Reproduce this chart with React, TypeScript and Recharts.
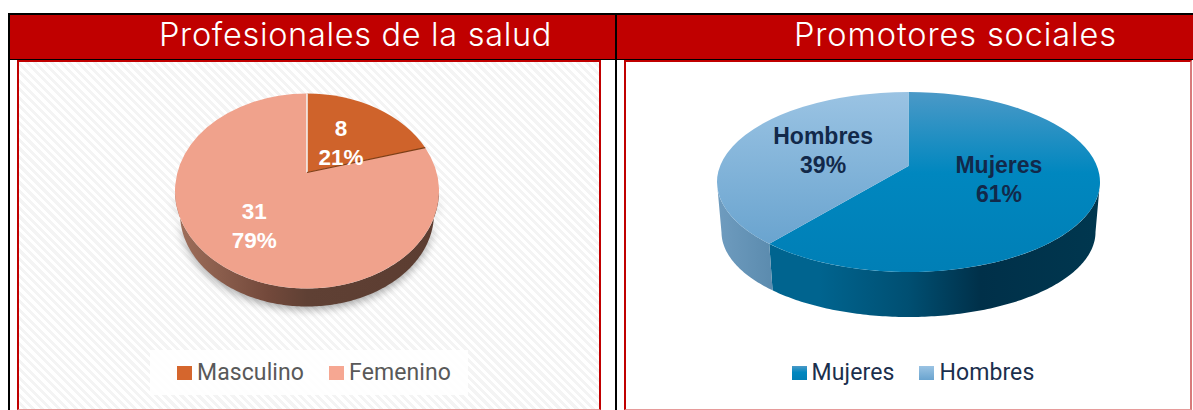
import React from 'react';
import { PieChart, Pie, Legend } from 'recharts';

const saludNames = ['Masculino', 'Femenino'];
const saludValues = [8, 31];
const saludColors = ['#cf632b', '#f0a28c'];
const saludLegendColors = ['#d5662d', '#f6a792'];

const promotoresNames = ['Mujeres', 'Hombres'];
const promotoresValues = [61, 39];
const promotoresColors = ['url(#mujeresTop)', 'url(#hombresTop)'];

const saludData = saludNames.map((name, i) => ({ name, value: saludValues[i], fill: saludColors[i] }));
const promotoresData = promotoresNames.map((name, i) => ({ name, value: promotoresValues[i], fill: promotoresColors[i] }));

const RED = '#c00000';
const titleFont = 'Inter, sans-serif';
const labelFont = '"Liberation Sans", Arial, sans-serif';
const legendFont = 'Roboto, sans-serif';

interface View {
  ry: number; // top face vertical radius
  c: number; // how far the pie centre slides up inside the ellipse (perspective)
  rxBottom: number;
  ryBottom: number;
  dyBottom: number;
  walls: string[];
  wallShadow?: boolean;
  edges?: boolean;
}

const rad = (d: number) => (d * Math.PI) / 180;

// perspective map of a point of the flat unit circle into the unit ellipse
const toEllipse = (angle: number, r: number, c: number) => {
  const x = r * Math.cos(rad(angle));
  const y = r * Math.sin(rad(angle));
  const d = 1 + c * y;
  return { X: (x * Math.sqrt(1 - c * c)) / d, Y: (y + c) / d };
};

const perspectiveSlice = (view: View) => (props: any) => {
  const { cx, cy, outerRadius, startAngle, endAngle, fill, index } = props;
  const rx = outerRadius;
  const { ry, c } = view;
  const pt = (a: number, r = 1) => {
    const p = toEllipse(a, r, c);
    return [cx + rx * p.X, cy - ry * p.Y];
  };
  const phi = (a: number) => {
    const p = toEllipse(a, 1, c);
    return (Math.atan2(p.Y, p.X) * 180) / Math.PI;
  };
  const apex = pt(0, 0);
  const s = pt(startAngle);
  const e = pt(endAngle);
  const phiStart = phi(startAngle);
  const sweep = (((phiStart - phi(endAngle)) % 360) + 360) % 360;
  const top = `M${apex[0]},${apex[1]} L${s[0]},${s[1]} A${rx},${ry} 0 ${sweep > 180 ? 1 : 0} 1 ${e[0]},${e[1]} Z`;

  // side wall: only the part of the rim that faces the viewer
  const upper: number[][] = [];
  const lower: number[][] = [];
  const steps: number[] = [];
  for (let t = 0; t < sweep; t += 1) steps.push(t);
  steps.push(sweep);
  steps.forEach((t) => {
    const f = phiStart - t;
    if (Math.sin(rad(f)) <= 0.0001) {
      upper.push([cx + rx * Math.cos(rad(f)), cy - ry * Math.sin(rad(f))]);
      lower.push([cx + view.rxBottom * Math.cos(rad(f)), cy + view.dyBottom - view.ryBottom * Math.sin(rad(f))]);
    }
  });
  const wall = upper.concat(lower.reverse());

  return (
    <g>
      {wall.length > 2 && (
        <path
          d={'M' + wall.map((p) => p.join(',')).join(' L') + ' Z'}
          fill={view.walls[index]}
          style={view.wallShadow ? { filter: 'drop-shadow(0 3px 4px rgba(0,0,0,0.35))' } : undefined}
        />
      )}
      <path d={top} fill={fill} />
      {view.edges && index === 1 && (
        <line x1={apex[0]} y1={apex[1]} x2={e[0]} y2={e[1]} stroke="#f4f4f4" strokeWidth={1.5} />
      )}
      {view.edges && index === 1 && (
        <line x1={apex[0]} y1={apex[1]} x2={s[0]} y2={s[1]} stroke="#7d3e16" strokeWidth={1.2} />
      )}
    </g>
  );
};

const sliceLabel = (view: View, radii: number[], color: string, firstLine: 'value' | 'name', fontSize: number, dx: number, dy: number) => (props: any) => {
  const { cx, cy, outerRadius, midAngle, percent, index, value, name } = props;
  const p = toEllipse(midAngle, radii[index], view.c);
  const x = cx + outerRadius * p.X + dx;
  const y = cy - view.ry * p.Y + dy;
  return (
    <text x={x} y={y} textAnchor="middle" fill={color} fontFamily={labelFont} fontWeight={700} fontSize={fontSize}>
      <tspan x={x} y={y - 7}>{firstLine === 'value' ? value : name}</tspan>
      <tspan x={x} y={y + 22}>{Math.round(percent * 100)}%</tspan>
    </text>
  );
};

const LegendRow = ({ payload, color, colors }: any) => (
  <div style={{ display: 'flex', justifyContent: 'center', alignItems: 'center', height: '100%' }}>
    {(payload || []).map((entry: any, i: number) => (
      <span key={entry.value} style={{ display: 'flex', alignItems: 'center', marginLeft: i ? 25 : 0 }}>
        <svg width={15} height={14} style={{ marginRight: 5 }}>
          <rect width={15} height={14} fill={colors ? colors[i] : entry.color} />
        </svg>
        <span style={{ fontFamily: legendFont, fontSize: 23, letterSpacing: 0.1, color, lineHeight: 1 }}>{entry.value}</span>
      </span>
    ))}
  </div>
);

const saludView: View = {
  ry: 97.5,
  c: 0.19,
  rxBottom: 127,
  ryBottom: 93,
  dyBottom: 22.5,
  walls: ['#7d3e16', 'url(#femeninoWall)'],
  wallShadow: true,
  edges: true,
};

const promotoresView: View = {
  ry: 90,
  c: 0.178,
  rxBottom: 187,
  ryBottom: 85,
  dyBottom: 50,
  walls: ['url(#mujeresWall)', 'url(#hombresWall)'],
};

const Box = ({ left, top, width, height, style, children }: any) => (
  <div style={{ position: 'absolute', left, top, width, height, boxSizing: 'border-box', ...style }}>{children}</div>
);

const Title = ({ left, spacing, children }: any) => (
  <div
    style={{
      position: 'absolute',
      left,
      top: 15,
      height: 44,
      lineHeight: '40px',
      fontFamily: titleFont,
      fontWeight: 300,
      fontSize: 32.5,
      letterSpacing: spacing,
      color: '#fff',
      whiteSpace: 'nowrap',
    }}
  >
    {children}
  </div>
);

const App = () => (
  <div style={{ position: 'absolute', left: 0, top: 0, width: 1193, height: 410, overflow: 'hidden', background: '#fff' }}>
    {/* table frame */}
    <Box left={8} top={13} width={1185} height={47} style={{ background: RED, borderTop: '2px solid #000', borderLeft: '2px solid #000', borderBottom: '1.5px solid #000' }} />
    <Box left={8} top={60} width={2} height={350} style={{ background: '#000' }} />
    <Box left={615} top={13} width={2} height={397} style={{ background: '#000' }} />
    <Title left={159} spacing={0.68}>Profesionales de la salud</Title>
    <Title left={794} spacing={0.9}>Promotores sociales</Title>

    {/* left panel */}
    <Box
      left={17}
      top={60}
      width={584}
      height={350}
      style={{
        border: `2px solid ${RED}`,
        borderBottomColor: '#e79a9a',
        borderBottomWidth: 1,
        background: 'repeating-linear-gradient(45deg, #ffffff 0 3px, #f4f4f4 3px 6px)',
      }}
    >
      <PieChart width={580} height={347} margin={{ top: 0, right: 0, bottom: 0, left: 0 }}>
        <defs>
          <linearGradient id="femeninoWall" x1="0" y1="0" x2="1" y2="0">
            <stop offset="0" stopColor="#a0705c" />
            <stop offset="0.35" stopColor="#73493b" />
            <stop offset="0.5" stopColor="#5f4034" />
            <stop offset="1" stopColor="#5c3d31" />
          </linearGradient>
        </defs>
        <Pie
          data={saludData}
          dataKey="value"
          nameKey="name"
          cx={288}
          cy={129}
          outerRadius={132}
          startAngle={90}
          endAngle={-270}
          stroke="none"
          isAnimationActive={false}
          shape={perspectiveSlice(saludView)}
          label={sliceLabel(saludView, [0.43, 0.64], '#ffffff', 'value', 22.5, 2.5, 0.5)}
          labelLine={false}
        />
        <Legend
          itemSorter={null}
          content={(p: any) => <LegendRow {...p} color="#595959" colors={saludLegendColors} />}
          wrapperStyle={{ position: 'absolute', left: 131, top: 288, width: 318, height: 45, paddingLeft: 10, boxSizing: 'border-box', background: 'rgba(255,255,255,0.85)' }}
        />
      </PieChart>
    </Box>

    {/* right panel */}
    <Box
      left={624}
      top={60}
      width={568}
      height={350}
      style={{ border: `2px solid ${RED}`, borderRightColor: '#d87a7a', borderBottomColor: '#e79a9a', borderBottomWidth: 1, background: '#fff' }}
    >
      <PieChart width={564} height={347} margin={{ top: 0, right: 0, bottom: 0, left: 0 }}>
        <defs>
          <linearGradient id="mujeresTop" x1="0" y1="0" x2="0" y2="1">
            <stop offset="0" stopColor="#4b99c7" />
            <stop offset="0.45" stopColor="#0087bf" />
            <stop offset="1" stopColor="#007fb6" />
          </linearGradient>
          <linearGradient id="hombresTop" x1="0" y1="0" x2="0" y2="1">
            <stop offset="0" stopColor="#9ac3e3" />
            <stop offset="1" stopColor="#6aa4cf" />
          </linearGradient>
          <linearGradient id="mujeresWall" x1="0" y1="0" x2="1" y2="0">
            <stop offset="0.15" stopColor="#00648f" />
            <stop offset="0.42" stopColor="#004f72" />
            <stop offset="0.64" stopColor="#003049" />
            <stop offset="1" stopColor="#00374f" />
          </linearGradient>
          <linearGradient id="hombresWall" x1="0" y1="0" x2="1" y2="0">
            <stop offset="0" stopColor="#6f9cbf" />
            <stop offset="1" stopColor="#5b8bae" />
          </linearGradient>
        </defs>
        <Pie
          data={promotoresData}
          dataKey="value"
          nameKey="name"
          cx={282.5}
          cy={120}
          outerRadius={191.5}
          startAngle={90}
          endAngle={-270}
          stroke="none"
          isAnimationActive={false}
          shape={perspectiveSlice(promotoresView)}
          label={sliceLabel(promotoresView, [0.5, 0.49], '#12294a', 'name', 23, -1, -1)}
          labelLine={false}
        />
        <Legend
          itemSorter={null}
          content={(p: any) => <LegendRow {...p} color="#1b2f4d" colors={promotoresColors} />}
          wrapperStyle={{ position: 'absolute', left: 17, top: 288, width: 540, height: 45 }}
        />
      </PieChart>
    </Box>
  </div>
);

export default App;
